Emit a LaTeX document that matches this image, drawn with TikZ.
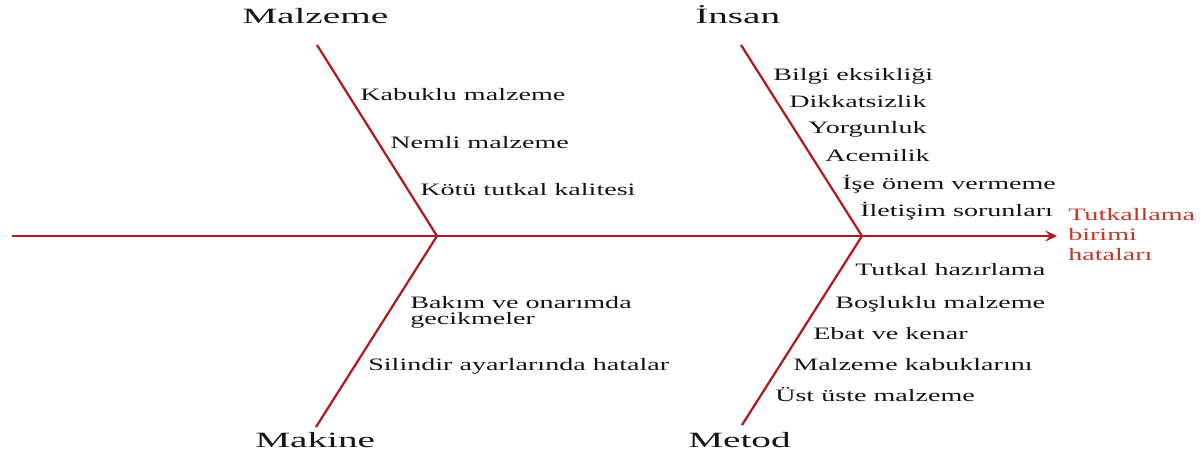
\documentclass[tikz,border=0pt]{standalone}
\usepackage{fontspec}
\setmainfont{Liberation Serif}[FakeStretch=1.61]
\newfontfamily\titlefont{Liberation Serif}[FakeStretch=1.8]
\usetikzlibrary{arrows.meta}
\definecolor{spine}{HTML}{B01A22}
\definecolor{effect}{HTML}{C0392B}
\definecolor{ink}{HTML}{151515}
\tikzset{
  cause/.style={anchor=base west,inner sep=0pt,text=ink,font=\fontsize{12.4}{13}\selectfont},
  cat/.style={anchor=base west,inner sep=0pt,text=ink,font=\titlefont\fontsize{15.5}{17}\selectfont},
  bone/.style={spine,line width=1.6pt}
}
\begin{document}
\begin{tikzpicture}[x=0.025cm,y=-0.025cm]
\useasboundingbox (0,0) rectangle (1201,455);
% spine and the four bones
\coordinate (tail) at (12,236); \coordinate (head) at (1057,236);
\coordinate (j1) at (437,236); \coordinate (j2) at (862,236);
\coordinate (mz) at (317,45); \coordinate (mk) at (316,427);
\coordinate (in) at (741,45); \coordinate (me) at (742,425);
\draw[bone,-{Stealth[length=8.5pt,width=8pt,inset=3.5pt]}] (tail) -- (head);
\draw[bone] (mz) -- (j1) -- (mk); \draw[bone] (in) -- (j2) -- (me);
% categories
\node[cat] (malzeme) at (242,23) {Malzeme};
\node[cat] (insan) at (695,23) {İnsan};
\node[cat] (makine) at (255,447) {Makine};
\node[cat] (metod) at (688,447) {Metod};
% causes
\foreach \x/\y/\t [count=\i] in {360/100/Kabuklu malzeme,390/148/Nemli malzeme,420/195/Kötü tutkal kalitesi}
  \node[cause] (mz\i) at (\x,\y) {\t};
\foreach \x/\y/\t [count=\i] in {773/80/Bilgi eksikliği,789/107/Dikkatsizlik,808/133/Yorgunluk,825/161/Acemilik,842/189/İşe önem vermeme,860/216/İletişim sorunları}
  \node[cause] (in\i) at (\x,\y) {\t};
\foreach \x/\y/\t [count=\i] in {855/275/Tutkal hazırlama,835/308/Boşluklu malzeme,813/339/Ebat ve kenar,793/370/Malzeme kabuklarını,775/401/Üst üste malzeme}
  \node[cause] (me\i) at (\x,\y) {\t};
\node[cause,anchor=west,align=left,font=\fontsize{12.4}{11.4}\selectfont] (mk1) at (410,312) {Bakım ve onarımda\\gecikmeler};
\node[cause] (mk2) at (368,370) {Silindir ayarlarında hatalar};
% effect
\node[anchor=west,align=left,inner sep=0pt,text=effect,font=\fontsize{12.4}{14.2}\selectfont] (effect) at (1068,234.5) {Tutkallama\\birimi\\hataları};
\end{tikzpicture}
\end{document}
